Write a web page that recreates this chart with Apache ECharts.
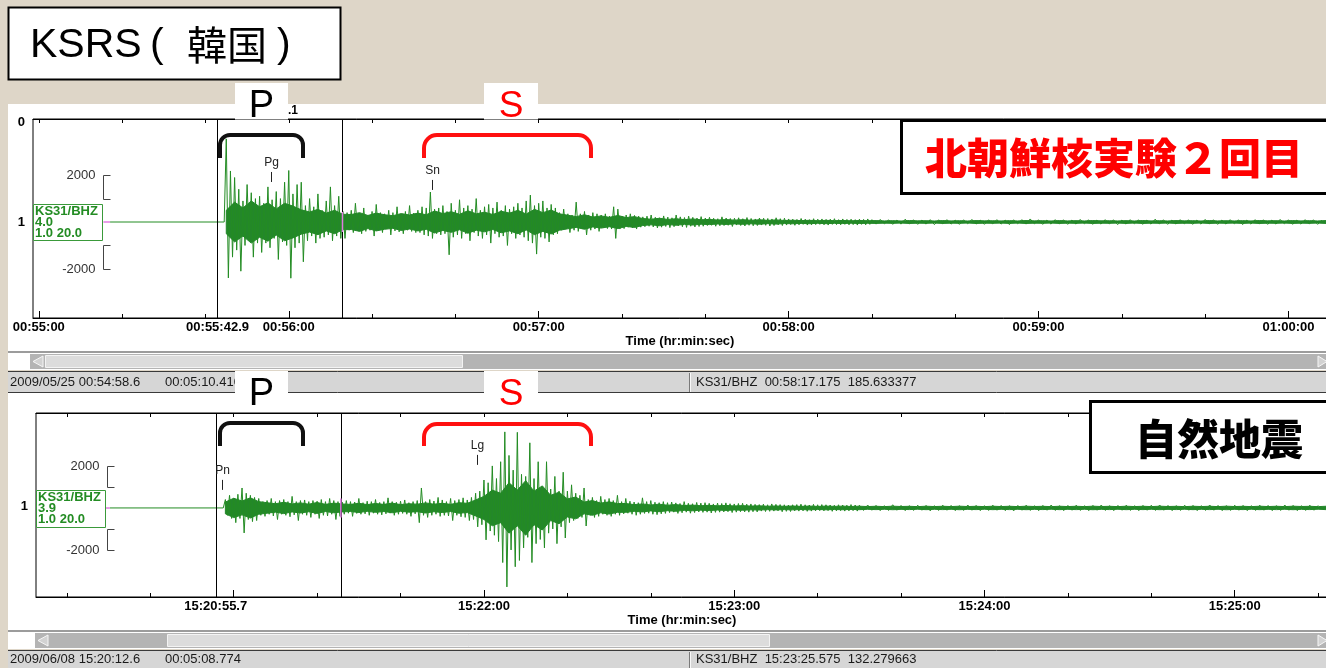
<!DOCTYPE html>
<html>
<head>
<meta charset="utf-8">
<title>KSRS</title>
<script src="https://cdn.jsdelivr.net/npm/echarts@6.0.0/dist/echarts.min.js"></script>
<style>
html,body{margin:0;padding:0;background:#ded6c8;}
#chart{width:1326px;height:668px;}
</style>
</head>
<body>
<div id="chart"></div>
<script>
// ================= DATA =================
const topRefSec = 55 * 60;                 // 00:55:00
const bottomRefSec = 15 * 3600 + 20 * 60;  // 15:20:00
const topRange = [-1.4, 309.25];
const bottomRange = [12.6, 322.36];

const topTicks = [0, 20, 40, 60, 80, 100, 120, 140, 160, 180, 200, 220, 240, 260, 280, 300];
const topMajorTicks = [0, 60, 120, 180, 240, 300];
const topLabels = [0, 42.9, 60, 120, 180, 240, 300];
const bottomTicks = [20, 40, 60, 80, 100, 120, 140, 160, 180, 200, 220, 240, 260, 280, 300, 320];
const bottomMajorTicks = [60, 120, 180, 240, 300];
const bottomLabels = [55.7, 120, 180, 240, 300];

const topIndexLabels = [0, 1];
const bottomIndexLabels = [1];

const scaleTicks = [2000, 1000, -1000, -2000];
const scaleLabels = [2000, -2000];

const topStation = ['KS31/BHZ', '4.0', '1.0 20.0'];
const bottomStation = ['KS31/BHZ', '3.9', '1.0 20.0'];

const topMarkers = [42.9, 72.9];
const bottomMarkers = [55.7, 85.7];

const topPickTimes = [55.7, 94.4];
const topPickLevels = [1710, 1370];
const topPickNames = ['Pg', 'Sn'];
const bottomPickTimes = [57.2, 118.3];
const bottomPickLevels = [860, 2050];
const bottomPickNames = ['Pn', 'Lg'];

// waveform samples (counts)
const topFlatStart = 17.1;
const topBurstStart = 44.5;
const topBurstStep = 0.5;
const topBurst = [
  0, 3550, -2390, 2180, -1500,
  1900, -1200, 1400, -2100, 900, -1000, 1600, -800, 1250, -1500, 1000, -900,
  1100, -1300, 800, -900, 1500, -1100, 950, -700, 1300, -1600, 1000, -850, 1700, -1000, 2200, -2400, 1200, -1100, 1600, -900,
  1700, -1700, 700, -800, 1000, -600, 650, -900, 1200, -700, 500, -650, 900, -550, 1500, -800, 700, -600, 1100, -700,
  450, -700, 400, -350, 500, -450, 800, -300, 350, -500, 600, -400, 300, -350, 450, -600, 750, -300, 400, -450,
  350, -300, 500, -550, 400, -380, 650, -420, 300, -500, 450, -350, 700, -400, 380, -450,
  500, -450, 650, -550, 600, -600, 1280, -700, 550, -500, 600, -550, 700, -500, 450, -1400, 800, -650, 500, -550,
  950, -700, 600, -500, 700, -800, 550, -450, 1000, -600, 500, -700, 650, -550, 750, -900, 600, -500, 850, -650,
  500, -600, 700, -1000, 550, -500, 650, -700, 800, -550, 600, -650, 900, -800,
  1150, -900, 700, -1370, 800, -650, 900, -700, 600, -850, 750, -550, 600, -500,
  400, -350, 550, -300, 350, -450, 300, -350, 850, -400, 350, -300, 450, -550, 300, -350, 400, -300, 350, -400,
  300, -250, 350, -280, 250, -300, 650, -700, 550, -300, 250, -280, 300, -220, 350, -250, 280, -300, 250, -220,
  220, -200, 250, -180, 300, -210, 200, -250, 180, -220, 260, -190, 210, -240, 180, -200, 300, -170, 220, -200,
  190, -230, 250, -180, 200, -210, 170, -190, 230, -180,
  170, -150, 200, -140, 160, -180, 140, -160, 220, -150, 170, -140, 150, -190, 160, -130, 180, -150, 140, -170,
  190, -140, 150, -160, 130, -150, 170, -130, 160, -140, 150, -170, 130, -150, 180, -120, 140, -150, 160, -130,
  130, -110, 120, -140, 110, -120, 150, -100, 120, -130, 100, -120, 140, -110, 120, -100, 130, -120, 110, -130,
  120, -100, 140, -110, 100, -120, 130, -100, 110, -120, 120, -110, 100, -130, 120, -100, 110, -120, 130, -100
];
const topTailStart = 200;
const topTailStep = 1;
const topTail = [
  100, -90, 110, -80, 90, -100, 80, -90, 120, -80, 90, -100, 80, -90, 100, -110, 90, -80, 100, -90,
  80, -100, 90, -80, 110, -90, 80, -100, 90, -80, 100, -90, 80, -110, 90, -80, 100, -90, 130, -80,
  90, -100, 80, -90, 100, -80, 90, -100, 80, -90, 110, -80, 90, -100, 80, -90, 100, -80, 90, -110,
  80, -90, 100, -80, 90, -100, 80, -90, 120, -80, 90, -100, 80, -90, 100, -80, 90, -100, 80, -90,
  110, -80, 90, -100, 80, -90, 100, -80, 90, -110, 80, -90, 100, -80, 90, -100, 80, -90, 110, -80,
  90, -100, 80, -90, 100, -80, 90, -100, 80
];
// dense core half-width (counts), every 2 s
const topCoreStart = 45;
const topCoreStep = 2;
const topCore = [
  500, 850, 600, 900, 650, 820, 560, 800, 680, 520,
  430, 540, 380, 500, 330,
  320, 400, 280, 380, 310, 270, 360, 300,
  380, 310, 470, 360, 440, 330, 480, 350, 420, 320, 460, 380, 500, 340,
  540, 400, 510, 350,
  290, 230, 310, 210, 260, 200, 280, 190, 230,
  150, 120, 160, 110, 140, 100, 130, 95,
  110, 85, 105, 80, 100, 75, 95, 70, 90, 65,
  75, 60, 72, 55, 70, 58, 66, 52, 64, 55,
  60, 48, 58, 45, 62, 50, 56, 46, 60, 48, 57, 44, 61, 50, 55, 47, 59, 46, 62, 49,
  56, 45, 60, 48, 58, 46, 61, 50, 55, 47, 59, 45, 62, 48, 56, 46, 60, 49, 57, 44,
  61, 48, 55, 47, 59, 46, 62, 50, 56, 45, 60, 48, 58, 46, 61
];

const bottomFlatStart = 30.3;
const bottomBurstStart = 57.5;
const bottomBurstStep = 0.5;
const bottomBurst = [
  0, 400, -350, 600, -500, 450, -700, 650, -500, 950, -1190, 700, -550, 600, -650, 500, -600, 450,
  -350, 300, -400, 350, -300, 450, -380, 300, -550, 350, -300, 400, -350, 300, -420, 550, -330, 300, -600, 350,
  -300, 380, -350, 300, -450, 350, -300, 320, -500, 400, -350, 300, -380, 450, -300, 350, -550, 300, -400,
  280, -300, 350, -250, 300, -400, 280, -260, 450, -300, 250, -280, 320, -350, 300, -250, 400, -300, 260, -330,
  300, -280, 480, -250, 300, -350, 270, -300, 320, -260, 380, -300, 250, -400, 300, -280, 350,
  -700, 950, -350, 300, -450, 400, -350, 330, -300, 500, -400, 380, -350, 300, -380, 450, -600, 350, -350, 400,
  -420, 480, -450, 380,
  -600, 500, -550, 700, -900, 800, -800, 1330,
  -1520, 1200, -1100, 2000, -1300, 1400, -1600,
  2200, -2600, 3620, -3760, 2500, -2000, 1800, -2800, 3600,
  -2500, 1600, -1900, 1500, -1400, 3100, -2600, 1400, -1700, 2200,
  -1500, 1000, -1900, 2200, -1200, 900, -1000, 1500, -1700, 800,
  -900, 1700, -1430, 800, -700, 1100, -600,
  700, -500, 600, -450, 950, -860, 400, -350, 500, -450, 350, -400, 550, -300, 400, -350, 450, -400, 350, -300, 600,
  -350, 300, -280, 450, -250, 320, -300, 280, -350, 250, -300, 480, -260, 300, -250, 350, -300, 270, -320, 250,
  -280, 300,
  -260, 250, -220, 280, -200, 240, -260, 210, -230, 300, -200, 220, -250, 200, -220, 260, -190, 230, -210, 250,
  -200, 220, -240, 190, -210, 230, -200, 210, -190, 240, -180, 200, -220, 190, -200, 210, -180, 220, -190, 180, -200,
  190, -180, 170, -190, 160, -150, 180, -170, 150, -160, 190, -150, 170, -140, 160, -180, 150, -160, 140, -170,
  150, -140, 160, -150, 180, -140, 150, -160, 140, -150, 170, -140, 150, -130, 160, -140, 150, -130, 140, -160,
  130, -140, 150, -130, 140, -150, 130, -140, 160, -130, 140, -150
];
const bottomTailStart = 210;
const bottomTailStep = 1;
const bottomTail = [
  130, -120, 140, -110, 120, -130, 110, -120, 150, -110, 120, -130, 110, -120, 130, -110, 120, -140, 110, -120,
  130, -110, 120, -130, 110, -120, 140, -110, 120, -130, 110, -120, 130, -110, 120, -130, 110, -140, 120, -110,
  130, -120, 110, -130, 120, -110, 140, -120, 110, -130, 120, -110, 130, -120, 110, -130, 120, -110, 140, -120,
  110, -130, 120, -110, 130, -120, 110, -130, 120, -110, 130, -120, 140, -110, 120, -130, 110, -120, 130, -110,
  120, -130, 110, -120, 140, -110, 120, -130, 110, -120, 130, -110, 120, -130, 110, -120, 130, -110, 120, -130,
  110, -120, 140, -110, 120, -130, 110, -120, 130, -110, 120
];
const bottomCoreStart = 58;
const bottomCoreStep = 2;
const bottomCore = [
  280, 460, 330, 480, 300,
  250, 200, 270, 190, 240, 180, 260, 170, 230, 190,
  170, 220, 160, 210, 170, 230, 160, 200, 180,
  240, 180, 220, 170, 250, 220,
  380, 550, 850, 700,
  1200, 850, 1300, 800, 1050,
  600, 750, 430, 520,
  280, 350, 230, 290, 210,
  210, 160, 190, 140, 180, 130, 160,
  115, 135, 105, 125, 100, 120, 95, 110, 90,
  100, 80, 95, 78, 92, 75, 90, 72, 88, 74, 86, 70,
  82, 66, 80, 64, 84, 68, 78, 62, 82, 66, 80, 65, 84, 67, 79, 63, 82, 66, 80, 64,
  83, 68, 78, 62, 81, 66, 80, 64, 84, 67, 79, 63, 82, 65, 80, 64, 83, 68, 78, 62,
  81, 66, 80, 64, 84, 67, 79, 63, 82, 66, 80, 64, 83, 68, 78, 62, 81
];

const topStatus = ['2009/05/25 00:54:58.6', '00:05:10.410', 'KS31/BHZ  00:58:17.175  185.633377'];
const bottomStatus = ['2009/06/08 15:20:12.6', '00:05:08.774', 'KS31/BHZ  15:23:25.575  132.279663'];

// ================= BUILD =================
const LAT = '"Liberation Sans", Arial, Helvetica, sans-serif';
const CJK = '"Noto Sans CJK JP", "Noto Sans CJK SC", sans-serif';
const GREEN = '#238c23';

function buildTrace(flatStart, bStart, bStep, burst, tStart, tStep, tail) {
  const d = [[flatStart, 0]];
  burst.forEach((v, i) => d.push([bStart + i * bStep, v]));
  tail.forEach((v, i) => d.push([tStart + i * tStep, v]));
  return d;
}

function makeFmt(ref) {
  return function (v) {
    const total = ref + v;
    let whole = Math.floor(total + 1e-6);
    let tenth = Math.round((total - whole) * 10);
    if (tenth === 10) { whole += 1; tenth = 0; }
    const h = Math.floor(whole / 3600), m = Math.floor((whole % 3600) / 60), s = whole % 60;
    const p = n => (n < 10 ? '0' : '') + n;
    return p(h) + ':' + p(m) + ':' + p(s) + (tenth ? '.' + tenth : '');
  };
}

function panelXAxes(gi, range, ticks, majors, labels, fmt, nameGap) {
  const common = { gridIndex: gi, type: 'value', min: range[0], max: range[1], splitLine: { show: false } };
  return [
    Object.assign({}, common, {
      position: 'bottom',
      axisLine: { show: true, onZero: false, lineStyle: { color: '#000', width: 1 } },
      axisTick: { show: true, inside: true, length: 4, customValues: ticks, lineStyle: { color: '#000' } },
      axisLabel: { show: true, customValues: labels, formatter: fmt, color: '#000', fontSize: 13, fontWeight: 'bold', fontFamily: LAT, margin: 3 },
      name: 'Time (hr:min:sec)', nameLocation: 'middle', nameGap: nameGap,
      nameTextStyle: { color: '#000', fontSize: 13, fontWeight: 'bold', fontFamily: LAT }
    }),
    Object.assign({}, common, {
      position: 'bottom',
      axisLine: { show: false, onZero: false },
      axisTick: { show: true, inside: true, length: 7, customValues: majors, lineStyle: { color: '#000' } },
      axisLabel: { show: false }
    }),
    Object.assign({}, common, {
      position: 'top',
      axisLine: { show: true, onZero: false, lineStyle: { color: '#000', width: 1 } },
      axisTick: { show: true, inside: true, length: 4, customValues: ticks, lineStyle: { color: '#000' } },
      axisLabel: { show: false }
    })
  ];
}

function scaleRender(offsetX, station, boxH) {
  return function (params, api) {
    const cs = params.coordSys;
    const x = Math.round(cs.x + offsetX) + 0.5;
    const xv = api.value(0);
    const yOf = v => Math.round(api.coord([xv, v])[1]) + 0.5;
    const y2 = yOf(scaleTicks[0]), y1 = yOf(scaleTicks[1]), ym1 = yOf(scaleTicks[2]), ym2 = yOf(scaleTicks[3]);
    const yc = api.coord([xv, 0])[1];
    const st = { stroke: '#444', lineWidth: 1, fill: null };
    const f = '13px ' + LAT;
    const children = [
      { type: 'polyline', shape: { points: [[x + 7, y2], [x, y2], [x, y1], [x + 7, y1]] }, style: st },
      { type: 'polyline', shape: { points: [[x + 7, ym1], [x, ym1], [x, ym2], [x + 7, ym2]] }, style: st },
      { type: 'text', style: { x: x - 8, y: y2, text: String(scaleLabels[0]), align: 'right', verticalAlign: 'middle', font: f, fill: '#333' } },
      { type: 'text', style: { x: x - 8, y: ym2, text: String(scaleLabels[1]), align: 'right', verticalAlign: 'middle', font: f, fill: '#333' } },
      { type: 'rect', shape: { x: cs.x + 0.5, y: Math.round(yc - 18) + 0.5, width: 69, height: boxH }, style: { fill: '#fff', stroke: '#3a9a3a', lineWidth: 1 } }
    ];
    station.forEach((s, i) => {
      children.push({ type: 'text', style: { x: cs.x + 2, y: yc + (i - 1) * 11 + 0.5, text: s, align: 'left', verticalAlign: 'middle', font: 'bold 13px ' + LAT, fill: GREEN } });
    });
    return { type: 'group', children: children };
  };
}

function coreRender(start, step, core) {
  return function (params, api) {
    const up = [], down = [];
    core.forEach((c, i) => {
      const t = start + i * step;
      up.push(api.coord([t, c]));
      down.push(api.coord([t, -c]));
    });
    const pts = up.concat(down.reverse());
    return {
      type: 'polygon', shape: { points: pts },
      style: { fill: '#23872a', stroke: '#23872a', lineWidth: 1 }
    };
  };
}

function pickRender(names) {
  return function (params, api) {
    const p = api.coord([api.value(0), api.value(1)]);
    const x = Math.round(p[0]) + 0.5;
    return {
      type: 'group', children: [
        { type: 'line', shape: { x1: x, y1: p[1], x2: x, y2: p[1] - 10 }, style: { stroke: '#222', lineWidth: 1 } },
        { type: 'text', style: { x: x, y: p[1] - 13, text: names[params.dataIndex], align: 'center', verticalAlign: 'bottom', font: '12px ' + LAT, fill: '#222' } }
      ]
    };
  };
}

function panelSeries(xi, yi, trace, core, markers, pinkStart, pinkVert, pinkHalf, scaleOff, station, boxH, pTimes, pLevels, pNames, anchorX) {
  return [
    {
      type: 'custom', xAxisIndex: xi, yAxisIndex: yi, data: [[anchorX, 0]], renderItem: core,
      z: 2, silent: true, animation: false, clip: true
    },
    {
      type: 'line', xAxisIndex: xi, yAxisIndex: yi, data: trace, showSymbol: false, symbol: 'none',
      sampling: null, lineStyle: { color: GREEN, width: 1 }, z: 3, silent: true, animation: false
    },
    {
      type: 'line', xAxisIndex: xi, yAxisIndex: yi, data: [[markers[0], 0]], showSymbol: false, symbol: 'none',
      lineStyle: { opacity: 0 }, z: 4, silent: true, animation: false,
      markLine: {
        silent: true, symbol: ['none', 'none'], animation: false, label: { show: false },
        lineStyle: { color: '#000', width: 1, type: 'solid' },
        data: markers.map(m => ({ xAxis: m }))
      }
    },
    {
      type: 'line', xAxisIndex: xi, yAxisIndex: yi, data: pinkStart, showSymbol: false, symbol: 'none',
      lineStyle: { color: '#e07ce0', width: 1.5 }, z: 5, silent: true, animation: false
    },
    {
      type: 'line', xAxisIndex: xi, yAxisIndex: yi, data: [[pinkVert, -pinkHalf], [pinkVert, pinkHalf]], showSymbol: false, symbol: 'none',
      lineStyle: { color: '#e07ce0', width: 1.5 }, z: 5, silent: true, animation: false
    },
    {
      type: 'custom', xAxisIndex: xi, yAxisIndex: yi, data: [[anchorX, 0]], renderItem: scaleRender(scaleOff, station, boxH),
      z: 6, silent: true, animation: false
    },
    {
      type: 'custom', xAxisIndex: xi, yAxisIndex: yi, data: pTimes.map((t, i) => [t, pLevels[i]]), renderItem: pickRender(pNames),
      z: 6, silent: true, animation: false
    }
  ];
}

function bracket(x1, x2, yTop, yBot, r, color) {
  const st = { stroke: color, lineWidth: 4, fill: null, lineCap: 'butt' };
  return {
    type: 'group', z: 30, children: [
      { type: 'line', z: 30, shape: { x1: x1, y1: yBot, x2: x1, y2: yTop + r }, style: st },
      { type: 'arc', z: 30, shape: { cx: x1 + r, cy: yTop + r, r: r, startAngle: Math.PI, endAngle: Math.PI * 1.5, clockwise: true }, style: st },
      { type: 'line', z: 30, shape: { x1: x1 + r, y1: yTop, x2: x2 - r, y2: yTop }, style: st },
      { type: 'arc', z: 30, shape: { cx: x2 - r, cy: yTop + r, r: r, startAngle: Math.PI * 1.5, endAngle: Math.PI * 2, clockwise: true }, style: st },
      { type: 'line', z: 30, shape: { x1: x2, y1: yTop + r, x2: x2, y2: yBot }, style: st }
    ]
  };
}

function rect(x, y, w, h, style, z) { return { type: 'rect', z: z, shape: { x: x, y: y, width: w, height: h }, style: style }; }
function txt(x, y, s, font, fill, align, z) { return { type: 'text', z: z || 30, style: { x: x, y: y, text: s, font: font, fill: fill, align: align || 'left', verticalAlign: 'middle' } }; }
function hline(x1, x2, y, c, z) { return { type: 'line', z: z, shape: { x1: x1, y1: y, x2: x2, y2: y }, style: { stroke: c, lineWidth: 1 } }; }
function vline(x, y1, y2, c, z) { return { type: 'line', z: z, shape: { x1: x, y1: y1, x2: x, y2: y2 }, style: { stroke: c, lineWidth: 1 } }; }

function chrome(panelTop, panelH, scrollY, thumbX, thumbW, trackX, statusY, statusH, status) {
  const els = [];
  els.push(rect(8, panelTop, 1318, panelH, { fill: '#fff' }, -10));
  els.push(rect(8, scrollY - 2, 1318, 2, { fill: '#9c9c9c' }, -9));
  els.push(rect(8, scrollY, 1318, 17, { fill: '#fff' }, -9));
  els.push(rect(trackX, scrollY + 1, 1326 - trackX, 15, { fill: '#b4b4b4' }, -8));
  els.push(rect(thumbX + 0.5, scrollY + 2.5, thumbW, 12, { fill: '#dcdcdc', stroke: '#f3f3f3', lineWidth: 1 }, -7));
  els.push({ type: 'polygon', z: -7, shape: { points: [[trackX + 13, scrollY + 3], [trackX + 3, scrollY + 8.5], [trackX + 13, scrollY + 14]] }, style: { fill: '#d2d2d2', stroke: '#f6f6f6', lineWidth: 1 } });
  els.push({ type: 'polygon', z: -7, shape: { points: [[1318, scrollY + 3], [1327, scrollY + 8.5], [1318, scrollY + 14]] }, style: { fill: '#d2d2d2', stroke: '#f6f6f6', lineWidth: 1 } });
  els.push(rect(8, statusY, 1318, statusH, { fill: '#d6d6d6' }, -9));
  els.push(hline(8, 1326, statusY + 0.5, '#3a3a3a', -8));
  els.push(vline(689.5, statusY + 2, statusY + statusH, '#7a7a7a', -8));
  els.push(vline(690.5, statusY + 2, statusY + statusH, '#f8f8f8', -8));
  const cy = statusY + statusH / 2 + 0.5;
  els.push(txt(10, cy, status[0], '13px ' + LAT, '#1a1a1a', 'left', -7));
  els.push(txt(165, cy, status[1], '13px ' + LAT, '#1a1a1a', 'left', -7));
  els.push(txt(696, cy, status[2], '13px ' + LAT, '#1a1a1a', 'left', -7));
  return els;
}

const graphics = [].concat(
  [rect(8.5, 7.5, 332, 72, { fill: '#fff', stroke: '#000', lineWidth: 2 }, 20),
   txt(30, 46, 'KSRS', '41px ' + LAT, '#000', 'left', 21),
   txt(150, 46, '(', '41px ' + LAT, '#000', 'left', 21),
   txt(187, 45, '韓国', '40px ' + CJK, '#000', 'left', 21),
   txt(277, 46, ')', '41px ' + LAT, '#000', 'left', 21)],
  chrome(104, 249, 353, 45, 417, 30, 371, 21, topStatus),
  [hline(8, 1326, 392.5, '#3a3a3a', -8)],
  chrome(393, 238, 632, 167, 602, 35, 650, 18, bottomStatus),
  [rect(235, 83, 53, 36.5, { fill: '#fff' }, 25),
   txt(261.5, 107, 'P', '38px ' + LAT, '#000', 'center', 26),
   txt(288, 111, '.1', 'bold 12px ' + LAT, '#000', 'left', 24),
   rect(484, 83, 54, 36.5, { fill: '#fff' }, 25),
   txt(511, 107, 'S', '37px ' + LAT, '#ff0000', 'center', 26),
   rect(235, 371, 53, 39, { fill: '#fff' }, 25),
   txt(261.5, 395, 'P', '38px ' + LAT, '#000', 'center', 26),
   rect(484, 371, 54, 39, { fill: '#fff' }, 25),
   txt(511, 395, 'S', '37px ' + LAT, '#ff0000', 'center', 26)],
  [bracket(220, 303, 135, 158, 10, '#111'),
   bracket(424, 591, 135, 158, 13, '#ff1010'),
   bracket(220, 303, 423, 446, 10, '#111'),
   bracket(424, 591, 424, 446, 13, '#ff1010')],
  [rect(901.5, 120.5, 440, 73, { fill: '#fff', stroke: '#000', lineWidth: 3 }, 30),
   txt(925, 158, '北朝鮮核実験２回目', '900 42px ' + CJK, '#ff0000', 'left', 31),
   rect(1090.5, 401.5, 260, 71, { fill: '#fff', stroke: '#000', lineWidth: 3 }, 30),
   txt(1135, 439, '自然地震', '900 42px ' + CJK, '#000', 'left', 31)]
);

const topTrace = buildTrace(topFlatStart, topBurstStart, topBurstStep, topBurst, topTailStart, topTailStep, topTail);
const bottomTrace = buildTrace(bottomFlatStart, bottomBurstStart, bottomBurstStep, bottomBurst, bottomTailStart, bottomTailStep, bottomTail);

const option = {
  backgroundColor: '#ded6c8',
  animation: false,
  grid: [
    { left: 33, top: 119, width: 1294, height: 199, show: true, backgroundColor: '#fff', borderColor: '#000', borderWidth: 1, containLabel: false, outerBoundsMode: 'none' },
    { left: 36, top: 413, width: 1292, height: 184, show: true, backgroundColor: '#fff', borderColor: '#000', borderWidth: 1, containLabel: false, outerBoundsMode: 'none' }
  ],
  xAxis: [].concat(
    panelXAxes(0, topRange, topTicks, topMajorTicks, topLabels, makeFmt(topRefSec), 16),
    panelXAxes(1, bottomRange, bottomTicks, bottomMajorTicks, bottomLabels, makeFmt(bottomRefSec), 15)
  ),
  yAxis: [
    { gridIndex: 0, type: 'value', min: -4100, max: 4400, show: false },
    { gridIndex: 0, type: 'value', min: -0.03, max: 1.95, inverse: true, position: 'left',
      axisLine: { show: false, onZero: false }, axisTick: { show: false }, splitLine: { show: false },
      axisLabel: { customValues: topIndexLabels, formatter: v => String(v), color: '#000', fontSize: 13, fontWeight: 'bold', fontFamily: LAT, margin: 8 } },
    { gridIndex: 1, type: 'value', min: -4240, max: 4520, show: false },
    { gridIndex: 1, type: 'value', min: 0, max: 1.96, inverse: true, position: 'left',
      axisLine: { show: false, onZero: false }, axisTick: { show: false }, splitLine: { show: false },
      axisLabel: { customValues: bottomIndexLabels, formatter: v => String(v), color: '#000', fontSize: 13, fontWeight: 'bold', fontFamily: LAT, margin: 8 } }
  ],
  series: [].concat(
    panelSeries(0, 0, topTrace, coreRender(topCoreStart, topCoreStep, topCore), topMarkers, [[15.5, 0], [17.1, 0]], topMarkers[1], 430, 70, topStation, 36, topPickTimes, topPickLevels, topPickNames, 0),
    panelSeries(3, 2, bottomTrace, coreRender(bottomCoreStart, bottomCoreStep, bottomCore), bottomMarkers, [[29.2, 0], [30.3, 0]], bottomMarkers[1], 450, 71, bottomStation, 37, bottomPickTimes, bottomPickLevels, bottomPickNames, 20)
  ),
  graphic: { elements: graphics }
};

const chart = echarts.init(document.getElementById('chart'), null, { renderer: 'canvas' });
chart.setOption(option);
</script>
</body>
</html>
